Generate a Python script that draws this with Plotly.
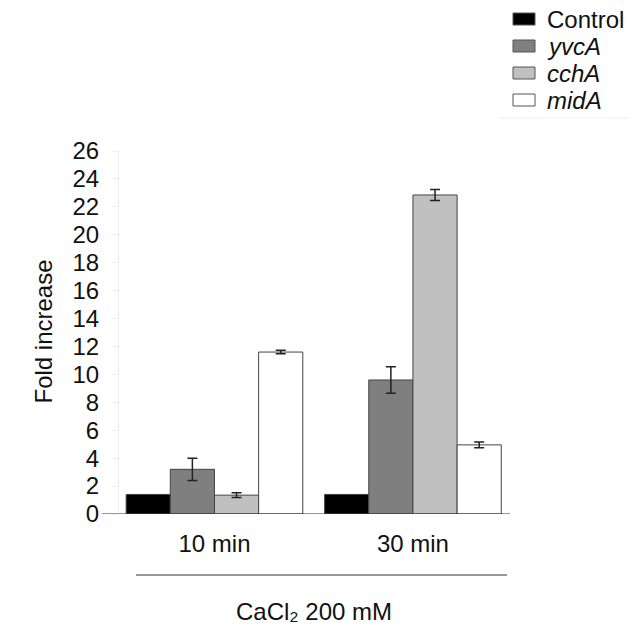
import plotly.graph_objects as go

categories = ["10 min", "30 min"]
series_names = ["Control", "yvcA", "cchA", "midA"]
series_labels = ["Control", "<i>yvcA</i>", "<i>cchA</i>", "<i>midA</i>"]
values = {
    "Control": [1.4, 1.4],
    "yvcA": [3.2, 9.6],
    "cchA": [1.35, 22.85],
    "midA": [11.6, 4.95],
}
errors = {
    "Control": [0, 0],
    "yvcA": [0.8, 0.95],
    "cchA": [0.17, 0.4],
    "midA": [0.12, 0.2],
}
colors = ["#000000", "#7f7f7f", "#c0c0c0", "#ffffff"]
y_ticks = list(range(0, 27, 2))

W, H = 635, 627
L, R, T, B = 119, 125, 151, 113
PW, PH = W - L - R, H - T - B

def px(x):
    return (x - L) / PW

def py(y):
    return (H - B - y) / PH

FONT = "Liberation Sans, Arial, sans-serif"
FS = 24

fig = go.Figure()
for name, col in zip(series_names, colors):
    fig.add_trace(go.Bar(
        x=categories, y=values[name], name=name,
        marker=dict(color=col, line=dict(color="#444444", width=1)),
        error_y=dict(type="data", array=errors[name], visible=any(e > 0 for e in errors[name]),
                     color="#222222", thickness=1.5, width=5),
        showlegend=False,
    ))

shapes = [
    # baseline
    dict(type="line", xref="paper", yref="y", x0=px(102), x1=px(510), y0=0, y1=0,
         line=dict(color="#333333", width=1)),
    # bracket line below categories
    dict(type="line", xref="paper", yref="paper", x0=px(136), x1=px(507), y0=py(575), y1=py(575),
         line=dict(color="#333333", width=1)),
    # faint legend frame
    dict(type="line", xref="paper", yref="paper", x0=px(500), x1=px(630), y0=py(118), y1=py(118),
         line=dict(color="#eeeeee", width=1)),
]
annotations = [
    dict(text="Fold increase", xref="paper", yref="paper", x=px(27), y=py(332), textangle=-90,
         showarrow=False, font=dict(size=FS, color="#111111", family=FONT)),
    dict(text="CaCl\u2082 200 mM", xref="paper", yref="paper", x=px(314), y=py(611),
         yanchor="middle", showarrow=False, font=dict(size=FS, color="#111111", family=FONT)),
]
legend_y = [19, 46, 73, 100]
for lab, col, yy in zip(series_labels, colors, legend_y):
    shapes.append(dict(type="rect", xref="paper", yref="paper",
                       x0=px(513), x1=px(535), y0=py(yy - 6), y1=py(yy + 6),
                       fillcolor=col, line=dict(color="#555555", width=1)))
    annotations.append(dict(text=lab, xref="paper", yref="paper", x=px(545), y=py(yy),
                            xanchor="left", yanchor="middle", showarrow=False,
                            font=dict(size=FS, color="#111111", family=FONT)))

fig.update_layout(
    width=W, height=H,
    margin=dict(l=L, r=R, t=T, b=B),
    paper_bgcolor="white", plot_bgcolor="white",
    barmode="group", bargap=0.11, bargroupgap=0,
    font=dict(family=FONT, size=FS, color="#111111"),
    shapes=shapes, annotations=annotations,
    xaxis=dict(range=[-0.481, 1.489], showline=False, showgrid=False, zeroline=False,
               ticks="", tickfont=dict(size=FS, color="#111111"), ticklabelstandoff=13),
    yaxis=dict(range=[0, 26], tickvals=y_ticks, showgrid=False, zeroline=False,
               showline=True, linecolor="#eeeeee", linewidth=1,
               ticks="outside", ticklen=6, tickcolor="#eeeeee",
               tickfont=dict(size=FS, color="#111111"), ticklabelstandoff=8),
)

fig.write_html("out.html")
